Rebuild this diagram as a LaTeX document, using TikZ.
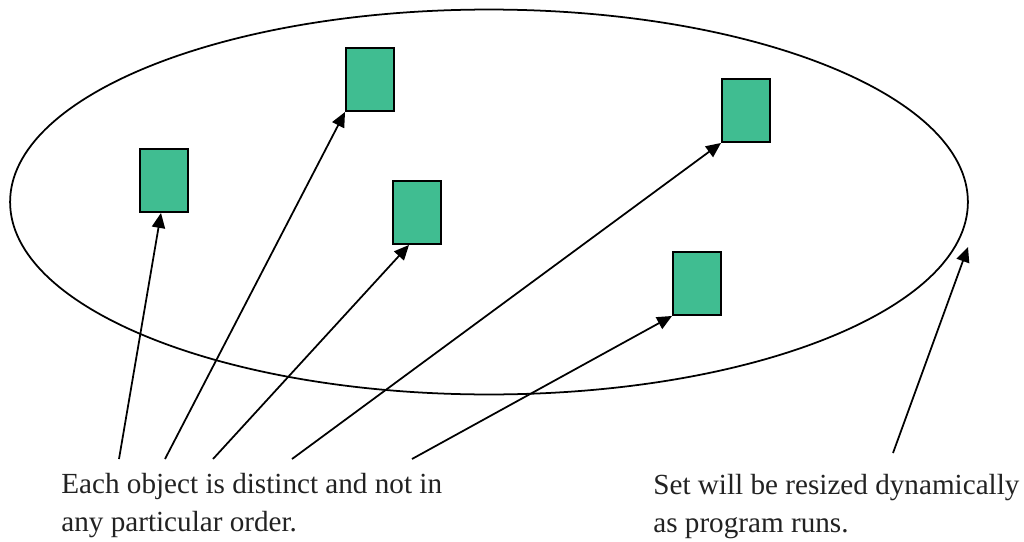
\documentclass[tikz,border=0pt]{standalone}
\usepackage{fontspec}
\setmainfont{Liberation Serif}
\usetikzlibrary{arrows.meta,shapes.geometric}
\definecolor{objgreen}{RGB}{64,189,145}
\definecolor{notegray}{RGB}{34,34,34}
\begin{document}
\begin{tikzpicture}[
    x=0.02cm, y=-0.02cm,
    obj/.style={draw, line width=1.1pt, fill=objgreen, minimum width=0.96cm, minimum height=1.26cm, inner sep=0pt},
    arrow/.style={-{Triangle[length=8.5pt, width=7.5pt]}, line width=1pt},
    note/.style={align=left, text=notegray, font=\fontsize{16.6pt}{21.5pt}\selectfont, inner sep=0pt, anchor=north west},
]
\useasboundingbox (0,0) rectangle (1024,541);
\node[draw, ellipse, line width=1pt, minimum width=19.16cm, minimum height=7.7cm, inner sep=0pt] (set) at (489,202) {};
\node[obj] (o1) at (164,180.5) {};
\node[obj] (o2) at (370,79.5) {};
\node[obj] (o3) at (417,212.5) {};
\node[obj] (o4) at (746,110.5) {};
\node[obj] (o5) at (697,283.5) {};
\node[note] (objnote) at (61,473) {Each object is distinct and not in\\any particular order.};
\node[note] (setnote) at (653,474) {Set will be resized dynamically\\as program runs.};
\coordinate (s1) at (119,459);
\coordinate (s2) at (165,459);
\coordinate (s3) at (213,459);
\coordinate (s4) at (292,459);
\coordinate (s5) at (412,459);
\coordinate (s6) at (893,453);
\coordinate (edge) at (968,247);
\draw[arrow] (s1) -- ([xshift=-0.06cm]o1.south);
\draw[arrow] (s2) -- (o2.south west);
\draw[arrow] (s3) -- ([xshift=-0.16cm]o3.south);
\draw[arrow] (s4) -- (o4.south west);
\draw[arrow] (s5) -- (o5.south west);
\draw[arrow] (s6) -- (edge);
\end{tikzpicture}
\end{document}
